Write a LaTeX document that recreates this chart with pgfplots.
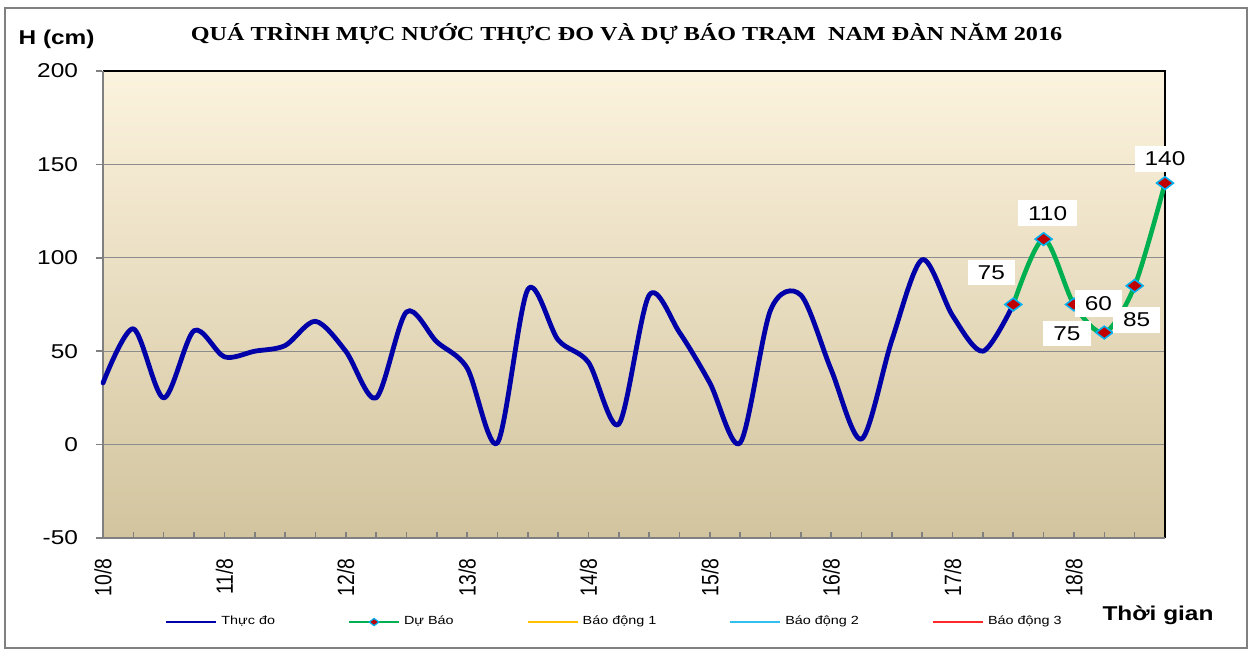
\documentclass[border=0pt]{standalone}
\usepackage{fontspec}
\setmainfont{Liberation Sans}
\newfontfamily\xs{Liberation Sans}[FakeStretch=1.22]
\newfontfamily\xsr{Liberation Sans}[FakeStretch=0.82]
\newfontfamily\xserif{Liberation Serif}[FakeStretch=1.22]
\usepackage{pgfplots}
\pgfplotsset{compat=1.18}
\usepackage{pgfplotstable}

\definecolor{measblue}{RGB}{0,0,168}
\definecolor{fcgreen}{RGB}{0,176,80}
\definecolor{mkred}{RGB}{192,0,0}
\definecolor{mkcyan}{RGB}{0,176,240}
\definecolor{bgtop}{RGB}{252,243,222}
\definecolor{bgmid}{RGB}{243,235,212}
\definecolor{bgbot}{RGB}{210,196,158}
\definecolor{axgray}{RGB}{128,128,128}
\definecolor{gridgray}{RGB}{140,140,140}
\definecolor{al1}{RGB}{255,192,0}
\definecolor{al2}{RGB}{51,190,240}
\definecolor{al3}{RGB}{255,40,40}

\pgfplotstableread{
x y
0 33
1 62
2 25
3 61
4 47
5 50
6 53
7 66
8 50
9 25
10 71
11 55
12 41
13 1
14 83
15 56
16 44
17 11
18 80
19 60
20 33
21 1
22 72
23 80
24 40
25 3
26 56
27 99
28 69
29 50
30 75
}\measured

\pgfplotstableread{
x y dx dy
30 75 -11 16
31 110 2 13
32 75 -3.5 -14.5
33 60 -3 14.5
34 85 1 -17
35 140 0 12
}\forecast

\begin{document}
\begin{tikzpicture}
\begin{axis}[
  at={(51.5pt,57.5pt)}, anchor=south west,
  scale only axis, width=531pt, height=233.5pt,
  xmin=0, xmax=35, ymin=-50, ymax=200,
  clip=false,
  xtick={0,4,...,32},
  xticklabels={10/8,11/8,12/8,13/8,14/8,15/8,16/8,17/8,18/8},
  minor xtick={1,...,35},
  ytick={-50,0,50,100,150,200},
  xtick pos=left, ytick pos=left,
  tick align=inside,
  major tick length=3pt, minor tick length=3pt,
  tick style={axgray, line width=0.8pt},
  ytick style={xshift=-3.5pt},
  axis line style={draw=none},
  ymajorgrids,
  major grid style={gridgray, line width=0.6pt},
  axis background/.style={top color=bgtop, middle color=bgmid, bottom color=bgbot},
  /pgf/number format/assume math mode=true,
  yticklabel style={font=\xs\fontsize{10}{12}\selectfont, xshift=-9pt},
  xticklabel style={font=\xsr\fontsize{11.8}{13}\selectfont, rotate=90, anchor=east, inner xsep=10pt},
  legend columns=5,
  legend cell align=left,
  legend image code/.code={\draw[mark repeat=2,mark phase=2,#1] plot coordinates {(0pt,0pt) (12.5pt,0pt) (25pt,0pt)};},
  legend style={draw=none, fill=none, at={(0.0584,-0.18)}, anchor=west, inner sep=0pt,
    font=\xs\fontsize{5.9}{7}\selectfont,
    /tikz/every even column/.append style={column sep=34.5pt}},
]
\draw[black, line width=0.6pt] (rel axis cs:0,1) -- (rel axis cs:1,1) -- (rel axis cs:1,0);
\draw[axgray, line width=1.3pt] (rel axis cs:0,1) -- (rel axis cs:0,0) -- (rel axis cs:1,0);

\addlegendimage{measblue, line width=1pt}
\addlegendentry{Thực đo}
\addlegendimage{fcgreen, line width=1pt, mark=diamond*, mark size=2.4pt, mark options={rotate=90, fill=mkred, draw=mkcyan, line width=0.6pt}}
\addlegendentry{Dự Báo}
\addlegendimage{al1, line width=1pt}
\addlegendentry{Báo động 1}
\addlegendimage{al2, line width=1pt}
\addlegendentry{Báo động 2}
\addlegendimage{al3, line width=1pt}
\addlegendentry{Báo động 3}

\addplot[measblue, line width=2.4pt, smooth, tension=0.5, line join=round, line cap=round, forget plot] table[x=x,y=y] {\measured};
\addplot[fcgreen, line width=2.3pt, smooth, tension=0.5, line join=round, line cap=round, forget plot] table[x=x,y=y] {\forecast};
\addplot[only marks, mark=diamond*, mark size=4.2pt,
  mark options={rotate=90, fill=mkred, draw=mkcyan, line width=0.8pt},
  forget plot,
  point meta=explicit,
  nodes near coords,
  visualization depends on={\thisrow{dx} \as \dx},
  visualization depends on={\thisrow{dy} \as \dy},
  every node near coord/.append style={anchor=center, xshift=\dx*1pt, yshift=\dy*1pt,
    fill=white, text=black, inner xsep=5pt, inner ysep=3pt,
    font=\xs\fontsize{10}{12}\selectfont}]
  table[x=x,y=y,meta=y] {\forecast};
\end{axis}
\node[font=\xserif\bfseries\fontsize{9.9}{12}\selectfont, anchor=base] at (313.3pt,306pt) {QUÁ TRÌNH MỰC NƯỚC THỰC ĐO VÀ DỰ BÁO TRẠM\ \ NAM ĐÀN NĂM 2016};
\node[font=\xs\bfseries\fontsize{10}{12}\selectfont, anchor=base] at (28.3pt,304pt) {H (cm)};
\node[font=\xs\bfseries\fontsize{10}{12}\selectfont, anchor=base] at (579pt,16.2pt) {Thời gian};
\draw[axgray, line width=1pt] (2.5pt,2.5pt) rectangle (623.5pt,322.5pt);
\pgfresetboundingbox
\path[use as bounding box] (0,0) rectangle (625.5pt,326.5pt);
\end{tikzpicture}
\end{document}
